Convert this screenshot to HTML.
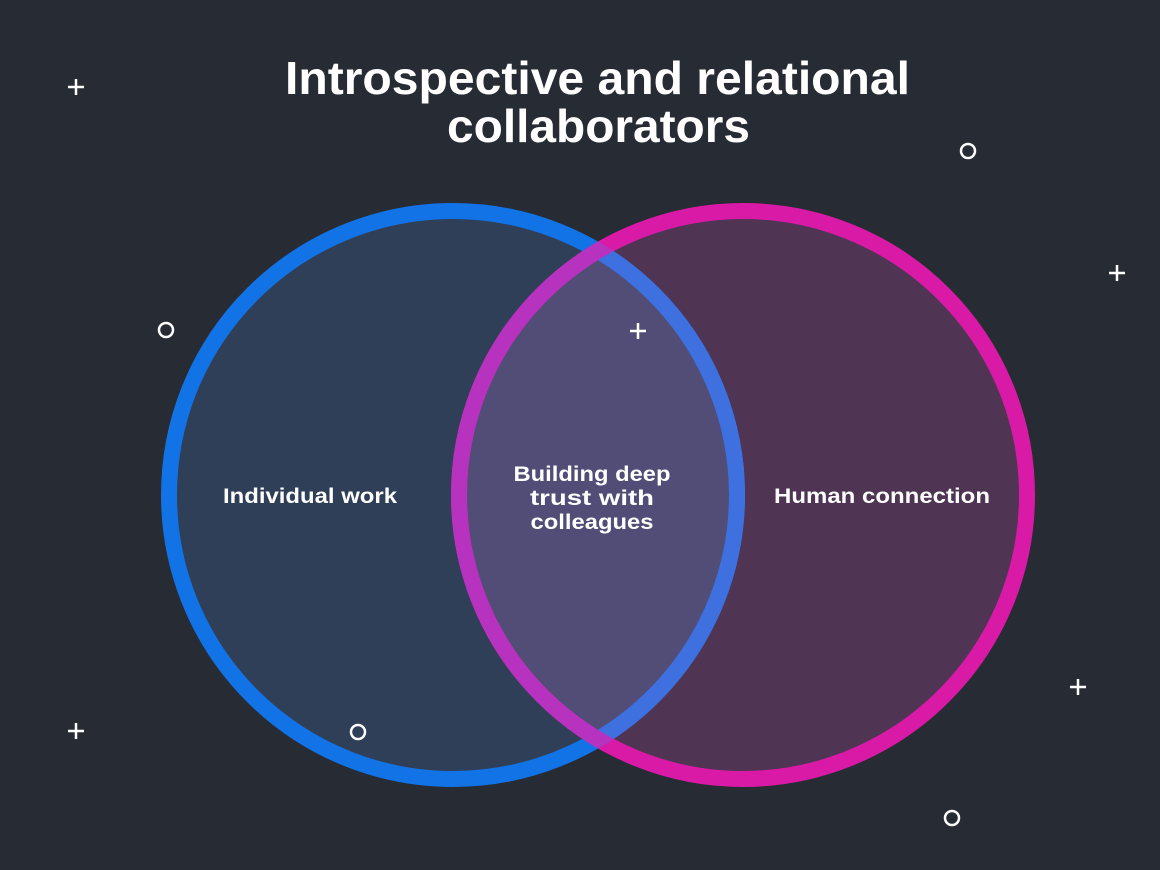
<!DOCTYPE html>
<html><head><meta charset="utf-8"><style>
html,body{margin:0;padding:0;background:#272b33;}
svg{display:block}
text{font-family:"Liberation Sans",sans-serif;fill:#fff}
</style></head><body>
<svg width="1160" height="870" viewBox="0 0 1160 870" xmlns="http://www.w3.org/2000/svg">
<defs>
<clipPath id="cl"><circle cx="453" cy="495" r="292"/></clipPath>
<clipPath id="cr"><circle cx="743" cy="495" r="292"/></clipPath>
</defs>
<rect width="1160" height="870" fill="#272b33"/>
<circle cx="453" cy="495" r="284" fill="#2f3f57"/>
<circle cx="743" cy="495" r="284" fill="#4f3553"/>
<g clip-path="url(#cl)"><circle cx="743" cy="495" r="284" fill="#524d76"/></g>
<circle cx="453" cy="495" r="284" fill="none" stroke="#1273e6" stroke-width="16"/>
<circle cx="743" cy="495" r="284" fill="none" stroke="#d91aa7" stroke-width="16"/>
<g clip-path="url(#cr)"><circle cx="453" cy="495" r="284" fill="none" stroke="#3f70e0" stroke-width="16"/></g>
<g clip-path="url(#cl)"><circle cx="743" cy="495" r="284" fill="none" stroke="#b733bf" stroke-width="16"/></g>
<g font-weight="bold">
<text x="285" y="94" font-size="46" textLength="625" lengthAdjust="spacingAndGlyphs">Introspective and relational</text>
<text x="447" y="142" font-size="46" textLength="303" lengthAdjust="spacingAndGlyphs">collaborators</text>
<text x="223" y="503" font-size="21" textLength="174" lengthAdjust="spacingAndGlyphs">Individual work</text>
<text x="774" y="503" font-size="21" textLength="216" lengthAdjust="spacingAndGlyphs">Human connection</text>
<text x="592" y="481" font-size="21" text-anchor="middle" textLength="157" lengthAdjust="spacingAndGlyphs">Building deep</text>
<text x="592" y="505" font-size="21" text-anchor="middle" textLength="124" lengthAdjust="spacingAndGlyphs">trust with</text>
<text x="592" y="529" font-size="21" text-anchor="middle" textLength="123" lengthAdjust="spacingAndGlyphs">colleagues</text>
</g>
<g stroke="#fff" stroke-width="2.5" fill="none">
<path d="M68 87h16M76 79v16"/>
<path d="M1109 273h16M1117 265v16"/>
<path d="M630 331h16M638 323v16"/>
<path d="M68 731h16M76 723v16"/>
<path d="M1070 687h16M1078 679v16"/>
<circle cx="968" cy="151" r="7"/>
<circle cx="166" cy="330" r="7"/>
<circle cx="358" cy="732" r="7"/>
<circle cx="952" cy="818" r="7"/>
</g>
</svg>
</body></html>
